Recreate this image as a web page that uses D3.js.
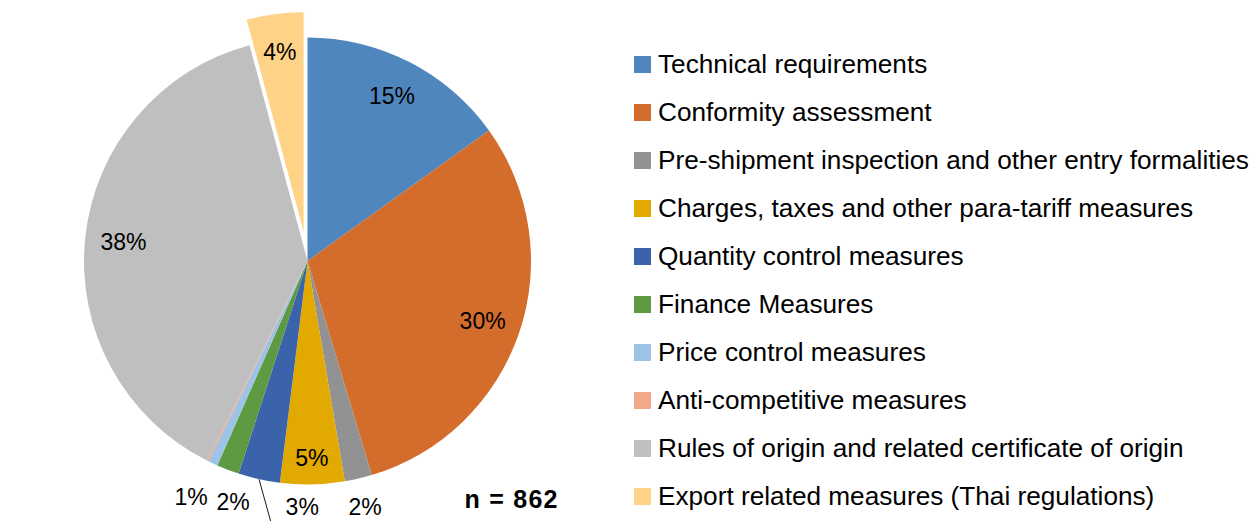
<!DOCTYPE html>
<html>
<head>
<meta charset="utf-8">
<script src="https://cdn.jsdelivr.net/npm/d3@7"></script>
<style>
  html, body { margin: 0; padding: 0; background: #fff; }
  svg { display: block; }
  text { font-family: "Liberation Sans", Arial, sans-serif; fill: #000; }
</style>
</head>
<body>
<svg id="chart" width="1260" height="521"></svg>
<script>
// ---- Data ----
const categories = [
  "Technical requirements",
  "Conformity assessment",
  "Pre-shipment inspection and other entry formalities",
  "Charges, taxes and other para-tariff measures",
  "Quantity control measures",
  "Finance Measures",
  "Price control measures",
  "Anti-competitive measures",
  "Rules of origin and related certificate of origin",
  "Export related measures (Thai regulations)"
];
const counts = [130, 261, 17, 40, 26, 14, 6, 1, 331, 36];
const colors = ["#4f86bd", "#d46c2b", "#929292", "#e2a900", "#3b63ab",
                "#5e9a41", "#9dc3e6", "#f2a98a", "#bfbfbf", "#ffd387"];
const explodedIndex = 9;
const totalLabel = "n = 862";

// ---- Layout ----
const W = 1260, H = 521;
const cx = 307.5, cy = 261, R = 223.5;
const explodeDist = 26;
const inLabelR = 185;
const inLabelTweak = { 3: 197 };
const outLabel = { // placement tweaks for small outside labels (angle shift in deg, radius)
  2: { da: 0, r: 253 },
  4: { da: -11.3, r: 246, leader: true },
  5: { da: -3.7, r: 252 },
  6: { da: 1.2, r: 263 }
};

const svg = d3.select("#chart");
const total = d3.sum(counts);
const data = categories.map((c, i) => ({ cat: c, count: counts[i], color: colors[i], i }));
const pie = d3.pie().sort(null).value(d => d.count);
const arcs = pie(data);
const arc = d3.arc().innerRadius(0).outerRadius(R);
const pct = d3.format(".0%");

const g = svg.append("g").attr("transform", `translate(${cx},${cy})`);

function offsetOf(a) {
  if (a.data.i !== explodedIndex) return [0, 0];
  const m = (a.startAngle + a.endAngle) / 2;
  return [explodeDist * Math.sin(m), -explodeDist * Math.cos(m)];
}

g.selectAll("path.slice").data(arcs).join("path")
  .attr("class", "slice")
  .attr("d", arc)
  .attr("fill", d => d.data.color)
  .attr("stroke", d => d.data.i === explodedIndex ? "#fff" : "none")
  .attr("stroke-width", 1)
  .attr("transform", d => { const o = offsetOf(d); return `translate(${o[0]},${o[1]})`; });

// ---- Data labels ----
arcs.forEach(a => {
  const share = a.data.count / total;
  if (share < 0.005) return;
  const m = (a.startAngle + a.endAngle) / 2;
  const o = offsetOf(a);
  let x, y;
  const tw = outLabel[a.data.i];
  if (tw) {
    const ang = m + tw.da * Math.PI / 180;
    x = tw.r * Math.sin(ang); y = -tw.r * Math.cos(ang);
    if (tw.leader) {
      g.append("line")
        .attr("x1", R * Math.sin(m)).attr("y1", -R * Math.cos(m))
        .attr("x2", x - 30).attr("y2", y + 20)
        .attr("stroke", "#1a1a1a").attr("stroke-width", 1);
    }
  } else {
    const r = inLabelTweak[a.data.i] || inLabelR;
    x = r * Math.sin(m) + o[0];
    y = -r * Math.cos(m) + o[1];
  }
  g.append("text")
    .attr("x", x).attr("y", y)
    .attr("text-anchor", "middle")
    .attr("dominant-baseline", "central")
    .style("font-size", "23px")
    .text(pct(share));
});

// ---- n label ----
svg.append("text")
  .attr("x", 511).attr("y", 508)
  .attr("text-anchor", "middle")
  .style("font-size", "25px").style("font-weight", "bold")
  .attr("textLength", 93).attr("lengthAdjust", "spacing")
  .text(totalLabel);

// ---- Legend ----
const ly = d3.scaleBand().domain(d3.range(categories.length)).range([49, 529]);
const leg = svg.append("g");
const rows = leg.selectAll("g").data(data).join("g")
  .attr("transform", d => `translate(634,${ly(d.i) + 24})`);
rows.append("rect").attr("x", 0).attr("y", -17).attr("width", 17).attr("height", 17)
  .attr("fill", d => d.color);
rows.append("text").attr("x", 24).attr("y", 0)
  .style("font-size", "26.2px")
  .text(d => d.cat);
</script>
</body>
</html>
